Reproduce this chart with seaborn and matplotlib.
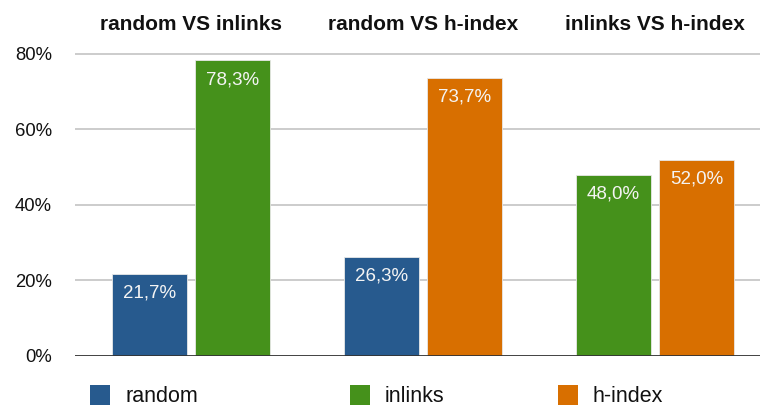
import numpy as np
import pandas as pd
import matplotlib
matplotlib.use("Agg")
import matplotlib.pyplot as plt
from matplotlib.patches import Rectangle
import seaborn as sns

# data
groups = ["random VS inlinks", "random VS h-index", "inlinks VS h-index"]
left_method = ["random", "random", "inlinks"]
right_method = ["inlinks", "h-index", "h-index"]
left_values = [21.7, 26.3, 48.0]
right_values = [78.3, 73.7, 52.0]
methods = ["random", "inlinks", "h-index"]
colors = {"random": "#275A8E", "inlinks": "#45911B", "h-index": "#D86F00"}
y_ticks = [0, 20, 40, 60, 80]

# long table: one row per bar, x position = group index +/- offset
offset = 0.179
rows = []
for i, g in enumerate(groups):
    rows.append({"group": g, "method": left_method[i], "value": left_values[i], "pos": i - offset})
    rows.append({"group": g, "method": right_method[i], "value": right_values[i], "pos": i + offset})
df = pd.DataFrame(rows)

sns.set_style("white")
plt.rcParams["font.family"] = ["Liberation Sans", "DejaVu Sans"]

fig = plt.figure(figsize=(7.6, 4.05), dpi=100)
ax = fig.add_axes([75 / 760, 49 / 405, 685 / 760, 304 / 405])

sns.barplot(data=df, x="pos", y="value", hue="method", hue_order=methods,
            palette=colors, saturation=1, native_scale=True, dodge=False, width=0.9,
            edgecolor="#e8e8e8", linewidth=0.6, legend=False, ax=ax, zorder=3)

ax.set_xlim(-0.5, 2.453)
ax.set_ylim(0, 80.5)
ax.set_yticks(y_ticks)
ax.set_yticklabels([f"{t}%" for t in y_ticks], fontsize=13.3, color="#111111")
ax.tick_params(axis="y", length=0, pad=16.5)
ax.set_xticks([])
ax.set_xlabel("")
ax.set_ylabel("")
for s in ax.spines.values():
    s.set_visible(False)
for t in y_ticks[1:]:
    ax.axhline(t, color="#c8c8c8", lw=1.3, zorder=1)
ax.axhline(0, color="#333333", lw=1.3, zorder=4)

# value labels inside the bars
for _, r in df.iterrows():
    ax.annotate(f"{r['value']:.1f}%".replace(".", ","), (r["pos"], r["value"]),
                xytext=(0, -14), textcoords="offset points", ha="center", va="center",
                color="#f4f4f4", fontsize=13.5, zorder=5)

# group titles above the plot
for i, g in enumerate(groups):
    ax.text(i, 1.09, g, transform=ax.get_xaxis_transform(), ha="center", va="center",
            fontsize=15, fontweight="bold", color="#111111")

# legend along the bottom edge
legend_x = [90, 350, 558]
for m, x0 in zip(methods, legend_x):
    fig.add_artist(Rectangle((x0 / 760, 0), 20 / 760, 20 / 405,
                             transform=fig.transFigure, facecolor=colors[m], edgecolor="none"))
    fig.text((x0 + 35) / 760, 1 - 396 / 405, m, ha="left", va="center", fontsize=15.5, color="#111111")

fig.savefig("out.png", dpi=100)
